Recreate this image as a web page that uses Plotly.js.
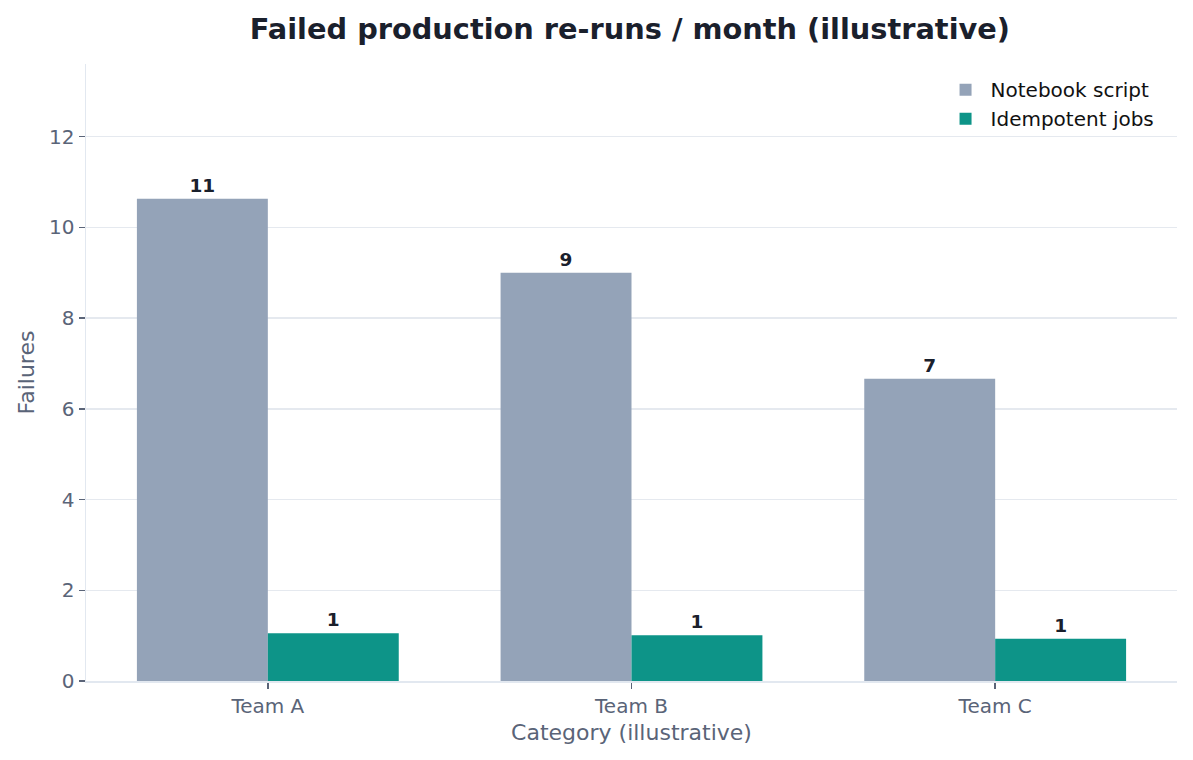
<!DOCTYPE html>
<html>
<head>
<meta charset="utf-8">
<script src="https://cdn.plot.ly/plotly-3.0.1.min.js"></script>
<style>html,body{margin:0;padding:0;background:#fff;}#chart{width:1193px;height:760px;}</style>
</head>
<body>
<div id="chart"></div>
<script>
const categories = ["Team A", "Team B", "Team C"];
const notebookScript = [10.63, 9.0, 6.66];
const idempotentJobs = [1.05, 1.01, 0.93];
const seriesNames = ["Notebook script", "Idempotent jobs"];

const labelFont = {family: "DejaVu Sans", size: 18.5, color: "#1a202c"};

const traces = [
  {
    type: "bar", name: seriesNames[0], x: categories, y: notebookScript,
    marker: {color: "#94a3b8"},
    texttemplate: "<b>%{y:.0f}</b>", textposition: "outside", textfont: labelFont,
    cliponaxis: false, hoverinfo: "skip"
  },
  {
    type: "bar", name: seriesNames[1], x: categories, y: idempotentJobs,
    marker: {color: "#0d9488"},
    texttemplate: "<b>%{y:.0f}</b>", textposition: "outside", textfont: labelFont,
    cliponaxis: false, hoverinfo: "skip"
  }
];

const layout = {
  width: 1193, height: 760,
  margin: {l: 86, r: 16, t: 64, b: 79},
  paper_bgcolor: "#ffffff", plot_bgcolor: "#ffffff",
  font: {family: "DejaVu Sans", size: 20, color: "#5a6478"},
  title: {
    text: "<b>Failed production re-runs / month (illustrative)</b>",
    font: {family: "DejaVu Sans", size: 28.8, color: "#1a202c"},
    x: 0.528, xanchor: "center", y: 0.962, yanchor: "middle"
  },
  barmode: "group", bargap: 0.28, bargroupgap: 0,
  xaxis: {
    type: "category", range: [-0.5, 2.5],
    showgrid: false, zeroline: false,
    showline: true, linecolor: "#e2e8f0", linewidth: 1.5,
    ticks: "outside", ticklen: 6, tickwidth: 1.5, tickcolor: "#5a6478",
    tickfont: {family: "DejaVu Sans", size: 20, color: "#5a6478"},
    title: {text: "Category (illustrative)", font: {family: "DejaVu Sans", size: 22, color: "#5a6478"}, standoff: 8}
  },
  yaxis: {
    range: [0, 13.6], dtick: 2,
    showgrid: true, gridcolor: "#e5e9ef", gridwidth: 1.5,
    zeroline: false,
    showline: true, linecolor: "#e2e8f0", linewidth: 1.5,
    ticks: "outside", ticklen: 6, tickwidth: 1.5, tickcolor: "#5a6478",
    tickfont: {family: "DejaVu Sans", size: 20, color: "#5a6478"},
    title: {text: "Failures", font: {family: "DejaVu Sans", size: 22, color: "#5a6478"}, standoff: 8}
  },
  legend: {
    x: 0.984, xanchor: "right", y: 0.99, yanchor: "top",
    bgcolor: "rgba(255,255,255,0)", borderwidth: 0,
    font: {family: "DejaVu Sans", size: 20, color: "#111111"},
    itemwidth: 40, tracegroupgap: 2
  },
  showlegend: true
};

Plotly.newPlot("chart", traces, layout, {displayModeBar: false, staticPlot: true});
</script>
</body>
</html>
